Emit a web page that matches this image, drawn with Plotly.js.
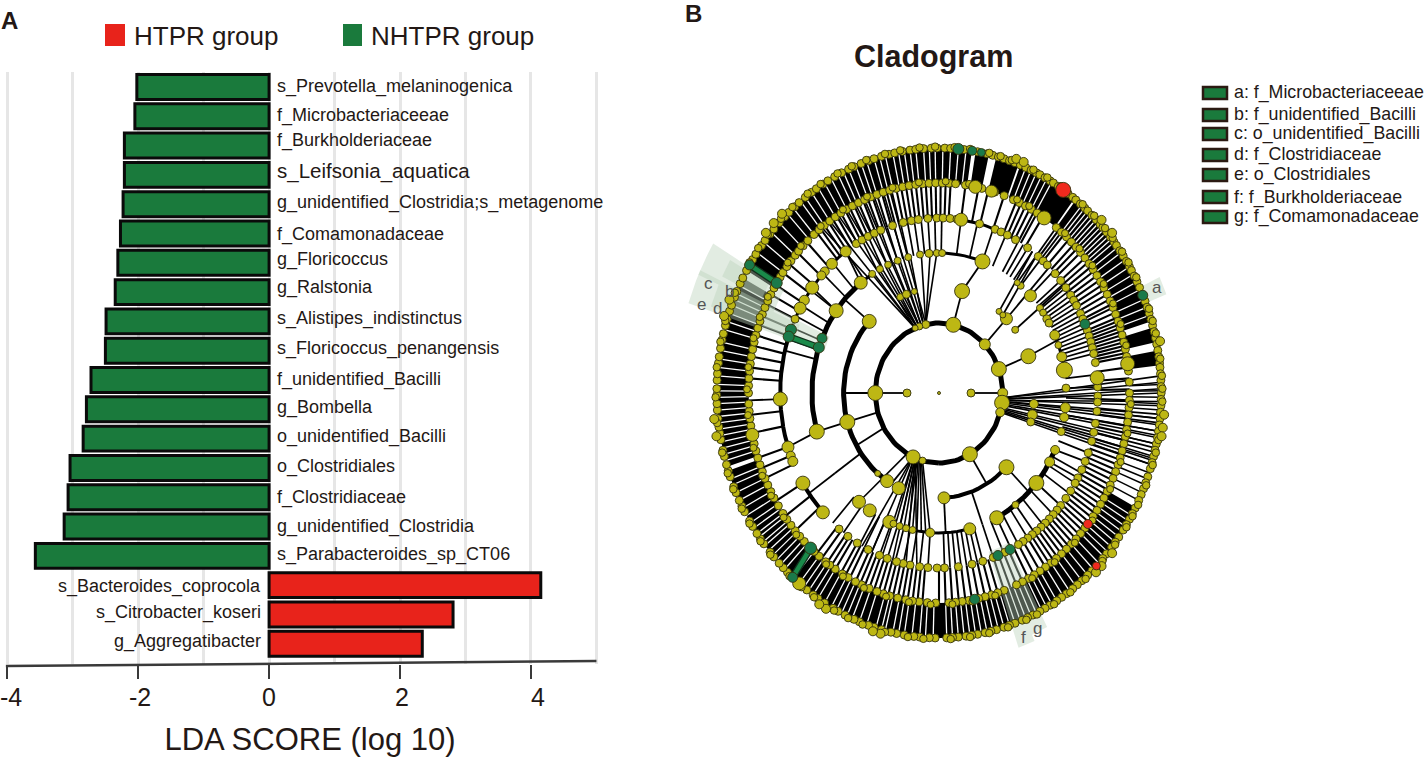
<!DOCTYPE html>
<html><head><meta charset="utf-8">
<script src="https://cdn.plot.ly/plotly-3.0.1.min.js"></script>
<style>html,body{margin:0;padding:0;background:#fff}</style></head>
<body><div id="chart" style="width:1425px;height:757px"></div>
<script>
// ---------- Panel A data ----------
const taxa=["s_Prevotella_melaninogenica","f_Microbacteriaceeae","f_Burkholderiaceae","s_Leifsonia_aquatica","g_unidentified_Clostridia;s_metagenome","f_Comamonadaceae","g_Floricoccus","g_Ralstonia","s_Alistipes_indistinctus","s_Floricoccus_penangensis","f_unidentified_Bacilli","g_Bombella","o_unidentified_Bacilli","o_Clostridiales","f_Clostridiaceae","g_unidentified_Clostridia","s_Parabacteroides_sp_CT06","s_Bacteroides_coprocola","s_Citrobacter_koseri","g_Aggregatibacter"];
const ldaScores=[-2.02,-2.05,-2.21,-2.21,-2.23,-2.27,-2.31,-2.35,-2.49,-2.5,-2.72,-2.79,-2.84,-3.04,-3.07,-3.13,-3.57,4.15,2.81,2.34];
const labelNudge=[0,-1,-5,-4,-2,1,-3,-5,-3,-2,-1,-2,-2,-1,0,0,-1,1,-2,-2];
const tickValues=[-4,-2,0,2,4];
const tickLabels=["-4","-2","0","2","4"];
const tickNudge=[4,2,0,2,7];
// ---------- Panel B data: angle in degrees clockwise from the top, ring = taxonomic level ----------
const legendItems=["a: f_Microbacteriaceeae","b: f_unidentified_Bacilli","c: o_unidentified_Bacilli","d: f_Clostridiaceae","e: o_Clostridiales","f: f_Burkholderiaceae","g: f_Comamonadaceae"];
const ring6Angles=[-179,-177.5,-175,-173.5,-171,-169,-167.5,-165,-163,-161.5,-159,-157.5,-155,-153,-151.5,-149,-147,-145.5,-143.5,-141,-139,-137,-135.5,-134,-132,-130.5,-128,-126.5,-125,-123,-121.5,-119,-117.5,-116,-114,-112.5,-110,-108.5,-107,-105,-103.5,-101,-99.5,-98,-96,-94,-92.5,-90.5,-89,-87,-85.5,-83,-81.5,-79.5,-77.5,-76,-74,-72.5,-70.5,-69,-67,-65.5,-63.5,-62,-60,-57,-55.5,-53,-51.5,-49.5,-48,-46,-44,-42.5,-40.5,-39,-37,-35,-33.5,-31.5,-30,-28,-26,-24,-22.5,-20.5,-18.5,-17,-15,-13,-11.5,-9.5,-7.5,-6,-4,-2,-0.5,1.5,3,6.5,10,12.5,14,15.5,17,18.5,20,21.5,23,24.5,26,27,28.5,30,31,32.5,35.5,37,38,39.5,41,42,43.5,45,46.5,47.5,49,50.5,52,53,54.5,56,57.5,59,60,61.5,63,64.5,68,69.5,71,72.5,74,75.5,77,78.5,80,81.5,83,84,85.5,87,88.5,90,91.5,93,94.5,96,97.5,99,100.5,102,103.5,105,106.5,108,110,111.5,113,114.5,116,118,119.5,121,122.5,124,126,127.5,129,131,132.5,136.5,138,140,141.5,143,145,146.5,148,150,151.5,153,155,156.5,158,160,161.5,163,165,166.5,168,170,171.5,173,175,176.5,178];
const ring6Extra=[-176,-172,-166,-160,-156,-152,-146,-142,-138,-131,-127,-122,-118,-113,-109,-104,-97,-91,-84,-78,-73,-66,-58,-54,-50,-45,-41,-36,-32,-27,-23,-19,-14,-10,-5,-1,4,8,13,16,19,25,29,33,40,44,48,51,55,58,62,70,73,76,82,86,89,92,101,104,107,112,117,120,123,128,133,139,144,149,154,157,162,167,172,177];
const ring6Bumps=[-165,-163,-150,-148,-100,-96,-72,-68,-50,-47,-44,20,22,46,50,78,95,98,100,130,134,136];
const ring5Angles=[-179,-176.5,-174,-172,-170,-167.5,-165,-163,-161,-158.5,-156,-154,-151.5,-149.5,-147,-145,-143.5,-141,-139,-135,-133,-131,-129,-127,-125,-122.5,-120,-118,-116,-114,-112,-110,-108,-106,-104,-99,-97,-95,-93,-90,-88,-86,-84,-82,-80,-78,-76,-74,-72,-70,-68,-66,-64,-62,-60,-56.5,-55,-53,-51,-49,-47.5,-45.5,-43.5,-41,-39,-37,-35,-33,-31,-29,-27,-25,-23,-21,-19,-17,-15,-13,-11,-9,-7,-5,-3,-1,1,3,5,8,10,13,17,20,23,25,27,29,31,38,40,42,44,46,48,50,52,54,56,58,60,62,64,66,68,70,72,74,76,78,80,84,87,90,92,94,96,98,100,102,104,106,108,110,112,114,116,118,120,122,124,126,130,132,134,136,138,140,142,144,146,148,150,152,154,156,160,162,164,166,168,171,173,175,177];
const ring5Extra=[-177.5,-171,-164,-157,-150,-144,-132,-126,-119,-113,-105,-96,-89,-83,-75,-69,-63,-52,-46,-38,-30,-22,-14,-6,2,9,24,28,41,47,53,59,65,71,77,93,101,109,117,127,135,143,151,163,170,176];
const ring4Angles=[-31.4,-29,-26.5,-24,-21.5,-17,-13,-10,-7.5,-4,-0.8,1.5,4,6.5,8,14.8,20.7,23,25.5,28.8,33.9,38.7,41,43,47,50,53,56,58,60,63,65,69,71,73,75,77,80,85,88,91,93,96,100,103,106,110,113,116,119,121,124,127,130,132,134,136,138,140,142,144,146,148,150,155.5,160,164,168,173,178,-179.3,-176,-173,-169.5,-167,-164.5,-161,-158,-153.5,-149,-145,-141];
const bigRings=[-1,0,0,1,1,1,1,1,1,1,1,1,1,1,1,1,2,2,2,2,2,2,2,2,2,2,2,2,2,2,2,2,2,2,2,3,3,3,3,3,3,3,3,3,3,3,3,3,3,3,3,3,3,3,3,3,3,3,3,3,3,3,3,3,3,3,3,3,3,3,3,3,3,3,3,3,3,4,4,4,4,4,4,4,4,4,4,4,4,4,4,4,4,5,5,5,5,5,6];
const bigAngles=[0,-90,90,-12,-18,-22,13,46,70,90,98,106,151,-156,-165,-90,-47,14,-147,-155,-140,45,53,39,42,69.5,96,102,106,135,177,-106,-24,-20,-15,-106,-54,-38,-141,-147,-157,20,166,153,130,143,119.5,114,46,40,38,52.6,55,58,60,65.6,70,75,80.6,88,96,100,106,-31.7,-27.7,-23.6,-19,-14,-8.6,-4.5,-1,1.4,-159,-162,-165,-168,-176,-36,-42.4,-46,-47.8,-53,-58,-61,-65,-92,-108,-111,-113,-121,-133,85,8,11,16,33.5,-101.5,82,-141];
const bigSizes=[3,8,8,8,7,6,15,11,15,10,15,9,15,14,7,15,14,15,13,13,6,12,7,6,6,15,9,10,8,15,12,15,7,8,6,15,14,13,13,13,13,15,12,14,15,7,10,9,12,7,6,7,7,8,8,10,7,10,16,8,10,9,8,7,7,7,7,7,7,8,7,7,7,7,7,7,9,11,11,9,9,13,10,12,8,14,12,9,10,14,13,14,13,13,12,14,13,14,13];
const greenRings=[6,6,6,6,5,4,4,5,5,4,4,3,3,4,6,6];
const greenAngles=[66.5,5,8.6,11,-58.4,-68.8,-71.2,-137.6,169.2,158.2,153.4,-67,-71,66.8,-138.8,-58.5];
const greenSizes=[10,11,9,8,11,11,11,12,10,10,10,10,11,10,10,10];
const redRings=[6,5,6];
const redAngles=[34,128.6,134.9];
const redSizes=[15,9,8];
// [ring, from angle, to angle, line width]
const thickArcs=[[1,-180,180,5],[2,-147,-47,5],[2,135,177,4],[3,-106,-38,5],[3,-38,-31,3],[3,-5,20,3],[3,114,153,5],[3,166,203,3],[3,65,81,3],[4,-110,-72,4],[4,-72,-36,3],[4,-133,-121,4],[4,8,29,3],[3,-163,-157,3]];
// [ring A, angle A, ring B, angle B]
const treeEdges=[[0,-90,1,-90],[0,90,1,90],[1,-90,2,-90],[1,13,2,14],[2,14,3,20],[1,46,2,45],[2,45,4,44],[2,53,4,52],[2,39,4,36],[2,42,4,38],[1,70,2,69.5],[2,69.5,3,68],[1,151,2,150],[2,-106,3,-106],[3,-106,4,-108],[2,-47,3,-48],[3,-54,4,-53],[3,-38,4,-36],[4,-92,5,-92],[1,-106,2,-106],[3,38,5,38],[3,40,5,40],[3,46,4,46],[3,143,4,143],[3,130,4,130],[2,135,3,135],[2,177,3,177],[2,160,3,160],[3,153,4,153],[3,119.5,4,119],[3,114,4,113],[1,-120,2,-120],[2,-125,3,-125],[3,-125,4,-125],[1,-156,2,-150]];
const fanEdges=[[1,-22,5,-38],[1,-22,5,-35],[1,-20,5,-32],[1,-20,5,-29],[1,-18,5,-26],[1,-18,5,-23],[1,-16,5,-20],[1,-14,5,-17],[1,-12,5,-15],[1,-12,3,-8],[1,-12,3,-4],[1,-12,3,-1],[1,-22,3,-31],[1,-22,3,-28],[1,-20,3,-25],[1,-18,3,-21],[1,-16,3,-18],[1,-14,3,-13],[1,94,6,86],[1,94,6,87.5],[1,95,6,89],[1,95,6,90],[1,96,6,92],[1,96,6,93],[1,97,6,95],[1,97,6,96],[1,98,6,97],[1,99,6,99],[1,100,6,100],[1,102,6,102],[1,103,6,103],[1,104,6,105],[1,105,6,106],[1,106,6,107],[1,-158,4,-172],[1,-158,4,-168],[1,-158,4,-163],[1,-157,4,-159],[1,-156,4,-155],[1,-156,4,-151],[1,-160,3,-166],[1,-161,3,-168],[1,-162,3,-170],[1,-163,3,-172],[1,-164,3,-174],[1,-165,3,-176],[1,-150,3,-141],[1,-159,3,-164],[1,-158,3,-162],[1,-157,3,-160]];
const spokes34=[-176,-173,-170,-167,-164,-161,-158,-155,-152,-138,-143,-150,178,176,174,172,170,168,166,164,160,156,150,146,139,134,125,121,117,110,104,99,92,88,84,77,75.5,74,72.5,71,69.5,68,66.5,65,63.5,62,60.5,59,57.5,56,54.5,53,51.5,50,36,34,32,30,8,14,20,25,-76,-72,-68,-64,-60,-54,-47,-42,-36,-29,-26.5,-24,-21.5,-19,-16.5,-14,-11.5,-9,-6.5,-4,-1.5,1];
const spokes45=[-175,-173.5,-172,-170.5,-169,-167.5,-166,-164.5,-163,-161.5,-160,-158.5,-157,-155.5,-154,-152,-150.5,-149,-147,-145.5,-144,-142,-140,-131,-126,-121,-114,-111,-108,-101,-96,-86,-83,-80,-77,-74,-71,-68.5,-65,-62,-59,-55,-52,-48,-44,-40,-38.5,-37,-35.5,-34,-32.5,-31,-29.5,-28,-26.5,-25,-23.5,-22,-20.5,-19,-17.5,-16,-14.5,-13,-11.5,-10,-8.5,-7,-5.5,-4,-2.5,-1,0.5,2,3.5,8,12,15,20,24,25.5,27,28.5,30,31,33,39,41,43,45,46.5,48,50,51.5,53,54.5,56,57.5,59,60.5,62,63.5,65,66,67.5,69,70,71,72,73,74,75,76,77,78,79,80,83,86,89,92,95,97,99,101,103,105,107,108.5,110,111.5,113,114.5,116,117.5,119,120.5,122,123.5,125,126.5,128,129.5,131,132.5,134,135.5,137,138.5,140,141.5,143,144.5,146,148,150,152,154,156,158,160,162,164,166,168,170,172,174,176,178,180];
const spans56=[[-180,-108.5],[-107.5,-62],[-60,8.5],[9.5,13],[15,21],[21.5,37.5],[38,73],[74.5,78],[80,83.5],[118,180]];
const slits56=[-178.5,-176.5,-175,-173,-171,-169.5,-168,-166,-165,-163.5,-161,-159,-157,-155.5,-154,-152.5,-151,-149,-147,-145.5,-144,-142.5,-141,-139,-136,-134.5,-133,-131.5,-130,-128.5,-127.5,-126,-125,-123.5,-122,-120,-118,-116,-114,-112,-110.5,-106,-104.5,-103,-101.5,-100,-98.5,-97,-95.5,-94,-92.5,-91,-89.5,-88,-86,-84,-82,-80,-78,-75,-73,-71,-69,-67.5,-66,-64,-55,-52,-49,-46,-43,-41,-38.5,-37,-35,-33,-31,-29,-27,-25.5,-24,-22,-20.5,-19,-17,-15.5,-14,-12,-10.5,-9,-7.5,-6,-4,-2.5,-1,1,3,5,7,23,24.5,26,27.5,29,30.5,40,41,42,43,44,45,46,47,48,49,50,51,52,53.5,55,57,59,61,63,65,67.5,69.5,71.5,120,121.5,123,124.5,126,127.5,129,130.5,132,134,136,138,140,142,144,146,148,149.5,151,152.5,154,155.5,157,158.5,160,161.5,163,164.5,166,167.5,169,170.5,172,173.5,175,176.5,178];
const spokes56=[88,89.5,91,92.5,94,96,97.5,99,100.5,102,104,105.5,107,109,110.5,112,114,116,118];
// [from angle, to angle, inner ring, outer ring]
const cladeShades=[[-66,-59,4.7,7.3],[-72,-65,2.8,7.3],[-71,-66,3.8,6.6],[-64,-60,5.2,6.6],[157,161,3.8,6.7],[153,157,3.8,6.5],[64.5,68.5,6,6.7]];
const cladeLetters=["c","b","d","e","f","g","a"];
const greenLinks=[[6,-58.5,5,-58.4],[4,-71.2,3,-71],[6,-138.8,5,-137.6]];

// ---------- Geometry helpers ----------
const W=1425,H=757,CX=939,CY=393;
const rx=r=>32+31.7*r, ry=r=>35+35*r;
const ptX=(r,a)=>CX+rx(r)*Math.sin(a*Math.PI/180);
const ptY=(r,a)=>CY-ry(r)*Math.cos(a*Math.PI/180);
function segs(list){const x=[],y=[];list.forEach(s=>{x.push(ptX(s[0],s[1]),ptX(s[2],s[3]),null);y.push(ptY(s[0],s[1]),ptY(s[2],s[3]),null);});return {x,y};}
function arc(r,a1,a2){const x=[],y=[];const n=Math.max(2,Math.ceil(Math.abs(a2-a1)/3));for(let i=0;i<=n;i++){const a=a1+(a2-a1)*i/n;x.push(ptX(r,a));y.push(ptY(r,a));}return {x,y};}
function sector(a1,a2,r1,r2){const o=arc(r2,a1,a2),i=arc(r1,a2,a1);return {x:o.x.concat(i.x,[o.x[0]]),y:o.y.concat(i.y,[o.y[0]])};}
const lineTrace=(d,w,c,extra)=>Object.assign({type:'scatter',mode:'lines',x:d.x,y:d.y,xaxis:'x2',yaxis:'y2',line:{color:c,width:w},hoverinfo:'skip',showlegend:false},extra||{});
const nodeTrace=(rs,as,ss,c)=>({type:'scatter',mode:'markers',xaxis:'x2',yaxis:'y2',x:as.map((a,i)=>ptX(rs[i],a)),y:as.map((a,i)=>ptY(rs[i],a)),marker:{color:c,size:ss,opacity:1,line:{color:'#34320c',width:0.9}},hoverinfo:'skip',showlegend:false});
const ringNodes=(angles,ring,size)=>nodeTrace(angles.map(()=>ring),angles,angles.map(()=>size),'#bdb714');

const traces=[];
// Panel A
traces.push({type:'bar',orientation:'h',y:taxa,x:ldaScores,width:0.85,marker:{color:ldaScores.map(v=>v<0?'#1a7a3c':'#e8231b'),line:{color:'#0a0a0a',width:3}},hoverinfo:'x+y',showlegend:false,xaxis:'x',yaxis:'y'});
// Panel B
spans56.forEach(s=>{const d=sector(s[0],s[1],5,6);traces.push(lineTrace(d,0,'#000',{fill:'toself',fillcolor:'#000'}));});
traces.push(lineTrace(segs(slits56.map(a=>[5,a,6,a])),1.3,'#fff'));
traces.push(lineTrace(segs(spokes56.map(a=>[5,a,6,a])),1.5,'#000'));
traces.push(lineTrace(segs(spokes45.map(a=>[4,a,5,a])),2.1,'#000'));
traces.push(lineTrace(segs(spokes34.map(a=>[3,a,4,a])),1.7,'#000'));
traces.push(lineTrace(segs(treeEdges),1.8,'#000'));
traces.push(lineTrace(segs(fanEdges),1.6,'#000'));
thickArcs.forEach(t=>traces.push(lineTrace(arc(t[0],t[1],t[2]),t[3],'#000')));
cladeShades.forEach(s=>{const d=sector(s[0],s[1],s[2],s[3]);traces.push(lineTrace(d,0,'rgba(0,0,0,0)',{fill:'toself',fillcolor:'rgba(185,210,185,0.42)'}));});
traces.push(lineTrace(segs(greenLinks),7,'#10301c'));
traces.push(lineTrace(segs(greenLinks),4.5,'#1a8a4a'));
traces.push(ringNodes(ring6Angles,6,8));
traces.push(ringNodes(ring6Extra,6.04,7.5));
traces.push(ringNodes(ring6Bumps,6.12,9));
traces.push(ringNodes(ring5Angles,5,8));
traces.push(ringNodes(ring5Extra,5.05,7));
traces.push(ringNodes(ring4Angles,4,8));
traces.push(nodeTrace(bigRings,bigAngles,bigSizes,'#bdb714'));
traces.push(nodeTrace(greenRings,greenAngles,greenSizes,'#1a7a4a'));
traces.push(nodeTrace(redRings,redAngles,redSizes,'#f02a1e'));

const px=x=>x/W, py=y=>1-y/H;
const txtColor='#231815', fam='Liberation Sans';
const ann=(x,y,text,size,opt)=>Object.assign({xref:'paper',yref:'paper',x:px(x),y:py(y),text,showarrow:false,xanchor:'left',yanchor:'middle',font:{family:fam,size,color:txtColor}},opt||{});
const annotations=[
 ann(-1,21,'<b>A</b>',24),ann(683,14,'<b>B</b>',24),
 ann(132,36,'HTPR group',26),ann(369,36,'NHTPR group',26),
 ann(933,56,'<b>Cladogram</b>',30.5,{xanchor:'center'})
];
taxa.forEach((t,i)=>annotations.push({xref:'x',yref:'y',x:0,y:i,text:t,showarrow:false,xanchor:ldaScores[i]<0?'left':'right',yanchor:'middle',xshift:ldaScores[i]<0?6:-6,yshift:-labelNudge[i],font:{family:fam,size:t==='s_Leifsonia_aquatica'?20.5:18,color:txtColor}}));
tickValues.forEach((v,i)=>annotations.push({xref:'x',yref:'paper',x:v,y:py(697),text:tickLabels[i],showarrow:false,xanchor:'center',yanchor:'middle',xshift:tickNudge[i],font:{family:fam,size:25,color:txtColor}}));
const legendY=[93,115,134,155,175,197,217];
legendItems.forEach((t,i)=>annotations.push(ann(1232,legendY[i],t,17.8)));
const letterXY=[[708,283],[729,292],[717,309],[701,304],[1024,637],[1037,628],[1157,287]];
cladeLetters.forEach((t,i)=>annotations.push(ann(letterXY[i][0],letterXY[i][1],t,17,{xanchor:'center',font:{family:fam,size:17,color:'#555'}})));
const shapes=[
 {type:'rect',xref:'paper',yref:'paper',x0:px(105),x1:px(125),y0:py(46),y1:py(24),fillcolor:'#e8231b',line:{width:0}},
 {type:'rect',xref:'paper',yref:'paper',x0:px(343),x1:px(362),y0:py(46),y1:py(24),fillcolor:'#1a7a3c',line:{width:0}},
 {type:'line',xref:'x',yref:'paper',x0:-4.02,x1:5,y0:py(666),y1:py(661),line:{color:'#3a3a3a',width:2.5}}
];
legendY.forEach(y=>shapes.push({type:'rect',xref:'paper',yref:'paper',x0:px(1203),x1:px(1227),y0:py(y+6),y1:py(y-6),fillcolor:'#1a7a3c',line:{color:'#2b1a12',width:2.5}}));

Plotly.newPlot('chart',traces,{
 width:W,height:H,margin:{l:0,r:0,t:0,b:0},paper_bgcolor:'#fff',plot_bgcolor:'rgba(0,0,0,0)',
 bargap:0.15,
 xaxis:{domain:[0,620/W],range:[-4.11,5.36],tickmode:'array',tickvals:tickValues,ticktext:tickLabels,showticklabels:false,ticks:'outside',ticklen:14,tickwidth:2.5,tickcolor:'#3a3a3a',
   showline:false,zeroline:false,showgrid:true,gridcolor:'#e6e6e6',gridwidth:3,
   minor:{dtick:1,showgrid:true,gridcolor:'#e6e6e6',gridwidth:3,ticks:''},
   title:{text:'LDA SCORE (log 10)',font:{family:fam,size:31,color:txtColor},standoff:52},anchor:'y'},
 yaxis:{domain:[1-664/H,1-72/H],type:'category',categoryorder:'array',categoryarray:taxa,range:[19.69,-0.51],showticklabels:false,ticks:'',showgrid:false,zeroline:false,showline:false,anchor:'x'},
 xaxis2:{domain:[620/W,1],range:[620,1425],visible:false,anchor:'y2'},
 yaxis2:{domain:[0,1],range:[757,0],visible:false,anchor:'x2'},
 annotations,shapes
},{staticPlot:true,displayModeBar:false});
</script></body></html>
